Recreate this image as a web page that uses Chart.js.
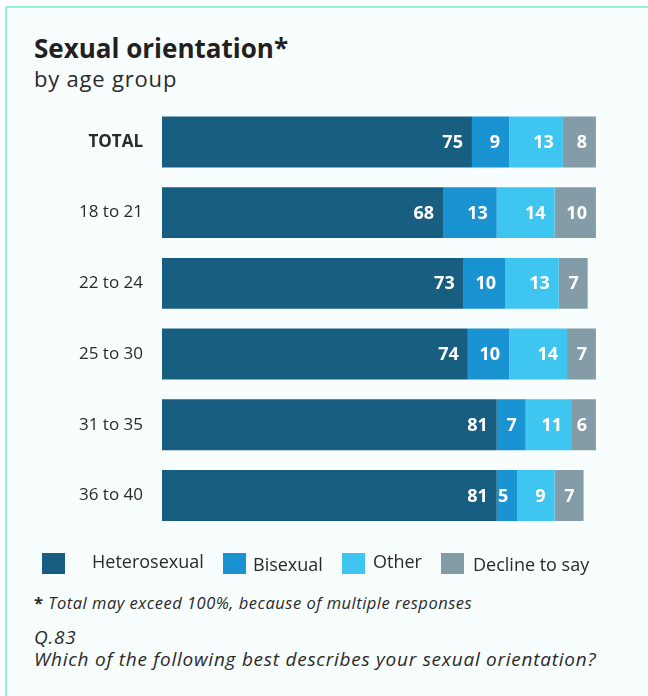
<!DOCTYPE html>
<html lang="en">
<head>
    <meta charset="UTF-8">
    <title>Sexual orientation by age group</title>
    <script src="https://cdn.jsdelivr.net/npm/chart.js@4.4.1/dist/chart.umd.min.js"></script>
    <style>
        html, body {
            margin: 0;
            padding: 0;
            background: #ffffff;
        }
        body {
            width: 648px;
            height: 696px;
            position: relative;
            overflow: hidden;
            font-family: "Open Sans", sans-serif;
            color: #2a2a2a;
        }
        .frame {
            position: absolute;
            left: 5px;
            top: 6px;
            width: 700px;
            height: 720px;
            border-top: 2px solid #8ef3d6;
            border-left: 2px solid #8ef3d6;
            background: #f8fdfd;
        }
        .txt {
            position: absolute;
            left: 34px;
            line-height: 1;
            white-space: nowrap;
        }
        #title { top: 35px; font-size: 26px; font-weight: 700; color: #231f20; }
        #subtitle { top: 67px; font-size: 22px; letter-spacing: 0.8px; }
        #note { top: 595px; font-size: 16.5px; font-style: italic; letter-spacing: 0.5px; }
        #note b { font-style: normal; }
        #qnum { top: 628px; font-size: 19px; font-style: italic; letter-spacing: 0.75px; }
        #question { top: 650px; font-size: 19px; font-style: italic; letter-spacing: 0.75px; }
        #chartBox {
            position: absolute;
            left: 0;
            top: 0;
        }
        .lg-box {
            position: absolute;
            top: 553px;
            width: 23px;
            height: 21px;
        }
        .lg-txt {
            position: absolute;
            font-size: 18px;
            line-height: 1;
            white-space: nowrap;
        }
    </style>
</head>
<body>
    <div class="frame"></div>
    <div id="title" class="txt">Sexual orientation*</div>
    <div id="subtitle" class="txt">by age group</div>
    <div id="chartBox"><canvas id="myChart" width="648" height="560"></canvas></div>
    <div id="legend"></div>
    <div id="note" class="txt"><b>*</b> Total may exceed 100%, because of multiple responses</div>
    <div id="qnum" class="txt">Q.83</div>
    <div id="question" class="txt">Which of the following best describes your sexual orientation?</div>

    <script>
        // Data
        const groups = ['TOTAL', '18 to 21', '22 to 24', '25 to 30', '31 to 35', '36 to 40'];
        const seriesNames = ['Heterosexual', 'Bisexual', 'Other', 'Decline to say'];
        const heterosexual = [75, 68, 73, 74, 81, 81];
        const bisexual = [9, 13, 10, 10, 7, 5];
        const other = [13, 14, 13, 14, 11, 9];
        const declineToSay = [8, 10, 7, 7, 6, 7];

        const colors = ['#185e80', '#1a93d2', '#3ec5f0', '#849ca7'];
        const seriesData = [heterosexual, bisexual, other, declineToSay];

        // Legend (positions tuned to the original layout)
        const legendBoxX = [42, 223, 342, 441];
        const legendTextX = [92, 253, 373, 473];
        const legendTextY = [552, 555, 552, 555];
        const legend = document.getElementById('legend');
        seriesNames.forEach((name, i) => {
            const box = document.createElement('div');
            box.className = 'lg-box';
            box.style.left = legendBoxX[i] + 'px';
            box.style.background = colors[i];
            legend.appendChild(box);
            const t = document.createElement('div');
            t.className = 'lg-txt';
            t.style.left = legendTextX[i] + 'px';
            t.style.top = legendTextY[i] + 'px';
            t.textContent = name;
            legend.appendChild(t);
        });

        // White value labels at the right end of each segment
        const valueLabels = {
            id: 'valueLabels',
            afterDatasetsDraw(chart) {
                const ctx = chart.ctx;
                ctx.save();
                ctx.fillStyle = '#ffffff';
                ctx.font = 'bold 18px "Open Sans"';
                ctx.textAlign = 'right';
                ctx.textBaseline = 'middle';
                chart.data.datasets.forEach((ds, di) => {
                    chart.getDatasetMeta(di).data.forEach((bar, i) => {
                        ctx.fillText(ds.data[i], bar.x - 9, bar.y + 1);
                    });
                });
                ctx.restore();
            }
        };

        const ctx = document.getElementById('myChart').getContext('2d');
        const myChart = new Chart(ctx, {
            type: 'bar',
            data: {
                labels: groups,
                datasets: seriesNames.map((name, i) => ({
                    label: name,
                    data: seriesData[i],
                    backgroundColor: colors[i],
                    borderWidth: 0,
                    categoryPercentage: 1,
                    barPercentage: 0.72
                }))
            },
            options: {
                indexAxis: 'y',
                responsive: false,
                animation: false,
                layout: {
                    padding: { left: 0, top: 106.6, right: 31.4, bottom: 9.2 }
                },
                plugins: {
                    legend: { display: false },
                    tooltip: { enabled: false }
                },
                scales: {
                    x: {
                        stacked: true,
                        min: 0,
                        max: 110,
                        display: false
                    },
                    y: {
                        stacked: true,
                        grid: { display: false, drawTicks: false },
                        border: { display: false },
                        afterFit(scale) { scale.width = 162; },
                        ticks: {
                            padding: 19,
                            color: '#2a2a2a',
                            font: (c) => ({
                                family: '"Open Sans"',
                                size: 17,
                                weight: c.index === 0 ? 'bold' : 'normal'
                            })
                        }
                    }
                }
            },
            plugins: [valueLabels]
        });
    </script>
</body>
</html>
